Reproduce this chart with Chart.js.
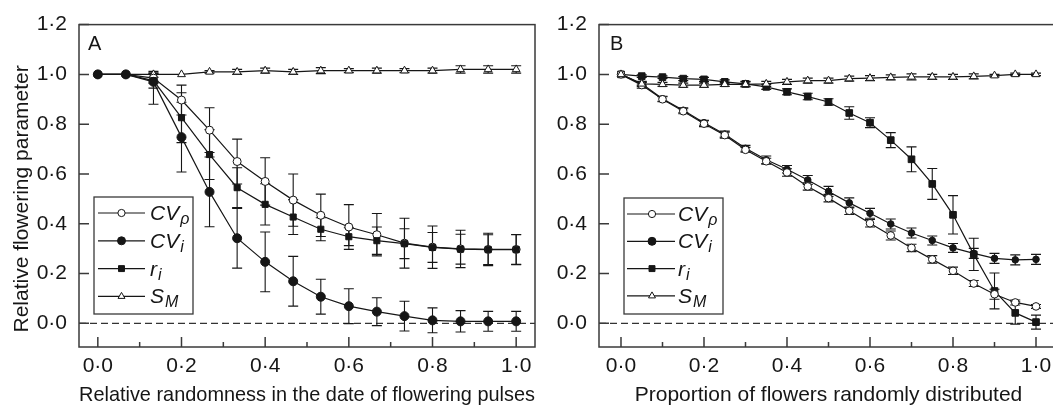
<!DOCTYPE html>
<html>
<head>
<meta charset="utf-8">
<script src="https://cdn.jsdelivr.net/npm/chart.js@4.4.0/dist/chart.umd.min.js"></script>
<style>
html,body{margin:0;padding:0;background:#fff;overflow:hidden;width:1053px;height:408px;}
#wrap{position:relative;width:1053px;height:408px;overflow:hidden;background:#fff;}
canvas{position:absolute;top:0;}
#ca{left:0;width:545px;height:408px;}
#cb{left:545px;width:523px;height:408px;}
</style>
</head>
<body>
<div id="wrap">
<canvas id="ca" width="545" height="408"></canvas>
<canvas id="cb" width="523" height="408"></canvas>
</div>
<script>
// ---------- text ----------
const yTitle = 'Relative flowering parameter';
const xTitleA = 'Relative randomness in the date of flowering pulses';
const xTitleB = 'Proportion of flowers randomly distributed';
const panelLetterA = 'A';
const panelLetterB = 'B';
const legendMain = ['CV', 'CV', 'r', 'S'];
const legendSub = ['\u03C1', 'i', 'i', 'M'];

// ---------- ticks ----------
const yTicks = [0, 0.2, 0.4, 0.6, 0.8, 1.0, 1.2];
const yTickLabels = ['0\u00B70', '0\u00B72', '0\u00B74', '0\u00B76', '0\u00B78', '1\u00B70', '1\u00B72'];
const xTicks = [0, 0.2, 0.4, 0.6, 0.8, 1.0];
const xTickLabels = ['0\u00B70', '0\u00B72', '0\u00B74', '0\u00B76', '0\u00B78', '1\u00B70'];
const xMinorTicks = [0.1, 0.3, 0.5, 0.7, 0.9];

// ---------- panel A data (error: number = symmetric, [below, above] = asymmetric) ----------
const xA = [0, 0.067, 0.133, 0.2, 0.267, 0.333, 0.4, 0.467, 0.533, 0.6, 0.667, 0.733, 0.8, 0.867, 0.933, 1.0];
const cvpA    = [1.0, 1.0, 0.985, 0.897, 0.776, 0.650, 0.570, 0.495, 0.434, 0.387, 0.356, 0.322, 0.306, 0.299, 0.297, 0.297];
const cvpErrA = [0, 0, 0.02, 0.06, 0.09, 0.09, 0.095, 0.105, 0.085, 0.09, 0.085, 0.10, 0.085, 0.075, 0.065, 0.06];
const cviA    = [1.0, 1.0, 0.97, 0.748, 0.528, 0.342, 0.247, 0.169, 0.107, 0.069, 0.047, 0.029, 0.012, 0.008, 0.008, 0.008];
const cviErrA = [0, 0, [0.09, 0.03], 0.14, 0.14, 0.12, 0.12, 0.10, 0.07, 0.07, 0.056, 0.06, 0.05, 0.043, 0.04, 0.04];
const riA     = [1.0, 1.0, 0.975, 0.826, 0.678, 0.545, 0.478, 0.427, 0.378, 0.348, 0.332, 0.320, 0.305, 0.298, 0.296, 0.296];
const riErrA  = [0, 0, 0.03, 0.10, 0.10, 0.08, 0.083, 0.07, 0.046, 0.036, 0.055, 0.06, 0.06, 0.06, 0.06, 0.06];
const smA     = [1.0, 1.0, 1.0, 1.0, 1.01, 1.01, 1.015, 1.01, 1.015, 1.015, 1.015, 1.015, 1.015, 1.02, 1.02, 1.02];
const smErrA  = [0, 0, 0.012, 0, 0.005, 0.01, 0.01, 0.01, 0.012, 0.008, 0.01, 0.008, 0.01, 0.015, 0.015, 0.015];

// ---------- panel B data ----------
const xB = [0, 0.05, 0.1, 0.15, 0.2, 0.25, 0.3, 0.35, 0.4, 0.45, 0.5, 0.55, 0.6, 0.65, 0.7, 0.75, 0.8, 0.85, 0.9, 0.95, 1.0];
const cvpB    = [1.0, 0.957, 0.9, 0.852, 0.802, 0.756, 0.697, 0.651, 0.606, 0.55, 0.503, 0.452, 0.402, 0.353, 0.303, 0.257, 0.211, 0.16, 0.117, 0.084, 0.068];
const cvpErrB = [0, 0.012, 0.01, 0.01, 0.012, 0.012, 0.01, 0.012, 0.015, 0.015, 0.015, 0.015, 0.015, 0.018, 0.015, 0.015, 0.015, 0.012, 0.02, 0.01, 0.008];
const cviB    = [1.0, 0.962, 0.902, 0.856, 0.806, 0.76, 0.703, 0.657, 0.619, 0.576, 0.53, 0.484, 0.442, 0.399, 0.363, 0.333, 0.303, 0.281, 0.261, 0.255, 0.257];
const cviErrB = [0, 0.01, 0.01, 0.01, 0.01, 0.012, 0.012, 0.015, 0.015, 0.018, 0.02, 0.02, 0.02, 0.02, 0.02, 0.018, 0.018, 0.02, 0.02, 0.02, 0.02];
const riB     = [1.0, 0.993, 0.989, 0.983, 0.98, 0.97, 0.962, 0.95, 0.93, 0.911, 0.889, 0.845, 0.806, 0.736, 0.659, 0.56, 0.436, 0.277, 0.13, 0.042, 0.005];
const riErrB  = [0, 0.005, 0.005, 0.008, 0.008, 0.008, 0.01, 0.01, 0.012, 0.013, 0.013, 0.025, 0.02, 0.03, 0.05, 0.062, 0.077, 0.065, 0.072, 0.045, 0.028];
const smB     = [1.0, 0.962, 0.96, 0.957, 0.957, 0.96, 0.96, 0.962, 0.97, 0.975, 0.975, 0.983, 0.985, 0.988, 0.99, 0.99, 0.99, 0.992, 0.995, 1.0, 1.0];
const smErrB  = [0, 0.005, 0.008, 0.008, 0.008, 0.008, 0.01, 0.01, 0.01, 0.01, 0.01, 0.01, 0.01, 0.01, 0.012, 0.01, 0.01, 0.01, 0.005, 0.005, 0.005];

// ---------- styling ----------
const FONT = '"Liberation Sans", Arial, Helvetica, sans-serif';
const INK = '#161616';
const FRAME = '#3a3a3a';

function makeDataset(label, xs, ys, errs, shape, radius, fill, order) {
  return {
    label: label,
    data: xs.map((x, i) => ({x: x, y: ys[i]})),
    errors: errs,
    borderColor: INK,
    borderWidth: 1.2,
    pointStyle: shape,
    pointRadius: radius,
    pointHoverRadius: radius,
    pointBackgroundColor: fill,
    pointBorderColor: INK,
    pointBorderWidth: 1,
    fill: false,
    tension: 0,
    order: order
  };
}

const errorBarsPlugin = {
  id: 'errorBars',
  beforeDatasetsDraw(chart) {
    const ctx = chart.ctx, xs = chart.scales.x, ys = chart.scales.y, ca = chart.chartArea;
    ctx.save();
    ctx.strokeStyle = '#333';
    ctx.lineWidth = 1.2;
    ctx.setLineDash([7, 4]);
    const y0 = ys.getPixelForValue(0);
    ctx.beginPath(); ctx.moveTo(ca.left, y0); ctx.lineTo(ca.right, y0); ctx.stroke();
    ctx.setLineDash([]);
    ctx.strokeStyle = INK;
    ctx.lineWidth = 1.1;
    chart.data.datasets.forEach(d => {
      if (!d.errors) return;
      d.data.forEach((p, i) => {
        const e = d.errors[i];
        if (!e) return;
        const lo = Array.isArray(e) ? e[0] : e;
        const hi = Array.isArray(e) ? e[1] : e;
        const px = xs.getPixelForValue(p.x);
        const y1 = ys.getPixelForValue(p.y + hi), y2 = ys.getPixelForValue(p.y - lo);
        ctx.beginPath();
        ctx.moveTo(px, y1); ctx.lineTo(px, y2);
        ctx.moveTo(px - 5, y1); ctx.lineTo(px + 5, y1);
        ctx.moveTo(px - 5, y2); ctx.lineTo(px + 5, y2);
        ctx.stroke();
      });
    });
    ctx.restore();
  }
};

function drawMarker(ctx, shape, r, fill, x, y) {
  ctx.fillStyle = fill;
  ctx.strokeStyle = INK;
  ctx.lineWidth = 1;
  if (Chart.helpers && Chart.helpers.drawPoint) {
    Chart.helpers.drawPoint(ctx, {pointStyle: shape, radius: r, rotation: 0, borderWidth: 1}, x, y);
  }
}

const decorPlugin = {
  id: 'decor',
  afterDraw(chart, args, opts) {
    const ctx = chart.ctx, ca = chart.chartArea, xs = chart.scales.x, ys = chart.scales.y;
    ctx.save();
    // frame
    ctx.strokeStyle = FRAME;
    ctx.lineWidth = 1.5;
    ctx.strokeRect(ca.left, ca.top, ca.right - ca.left, ca.bottom - ca.top);
    // inward ticks
    ctx.beginPath();
    yTicks.forEach(v => { const py = ys.getPixelForValue(v); ctx.moveTo(ca.left, py); ctx.lineTo(ca.left + 10, py); });
    xTicks.forEach(v => { const px = xs.getPixelForValue(v); ctx.moveTo(px, ca.bottom); ctx.lineTo(px, ca.bottom - 10); });
    xMinorTicks.forEach(v => { const px = xs.getPixelForValue(v); ctx.moveTo(px, ca.bottom); ctx.lineTo(px, ca.bottom - 5); });
    ctx.stroke();
    // y axis title (rotated)
    if (opts.yTitle) {
      ctx.save();
      ctx.translate(opts.yTitleX, ys.getPixelForValue(opts.yTitleCenter));
      ctx.rotate(-Math.PI / 2);
      ctx.fillStyle = INK;
      ctx.font = '21px ' + FONT;
      ctx.textAlign = 'center';
      ctx.textBaseline = 'middle';
      ctx.fillText(opts.yTitle, 0, 0);
      ctx.restore();
    }
    // panel letter
    ctx.fillStyle = INK;
    ctx.font = '20px ' + FONT;
    ctx.textBaseline = 'alphabetic';
    ctx.textAlign = 'left';
    ctx.fillText(opts.letter, ca.left + opts.letterDx, ca.top + 25);
    // legend
    const L = opts.legend;
    const bx = ca.left + L.dx, by = L.top;
    ctx.strokeStyle = FRAME;
    ctx.lineWidth = 1.3;
    ctx.fillStyle = '#fff';
    ctx.fillRect(bx, by, L.w, L.h);
    ctx.strokeRect(bx, by, L.w, L.h);
    L.items.forEach((it, i) => {
      const ry = by + L.firstRow + i * L.rowGap;
      ctx.strokeStyle = INK;
      ctx.lineWidth = 1.2;
      ctx.beginPath(); ctx.moveTo(bx + L.lineX0, ry); ctx.lineTo(bx + L.lineX1, ry); ctx.stroke();
      drawMarker(ctx, it.shape, it.r, it.fill, bx + L.markX, ry);
      ctx.fillStyle = INK;
      ctx.font = 'italic 21px ' + FONT;
      ctx.textAlign = 'left';
      ctx.textBaseline = 'alphabetic';
      const tx = bx + L.textX, base = ry + 7;
      ctx.fillText(legendMain[i], tx, base);
      const w = ctx.measureText(legendMain[i]).width;
      ctx.font = 'italic 16px ' + FONT;
      ctx.fillText(legendSub[i], tx + w + 1, base + 4);
    });
    ctx.restore();
  }
};

function makeChart(id, sets, xTitle, minX, maxX, yAxisWidth, yTitleText, padRight, letter, letterDx, legend) {
  return new Chart(document.getElementById(id), {
    type: 'line',
    data: {datasets: sets},
    options: {
      responsive: false,
      animation: false,
      events: [],
      layout: {padding: {left: 0, right: padRight, top: 17, bottom: 0}},
      plugins: {
        legend: {display: false},
        tooltip: {enabled: false},
        decor: {letter: letter, letterDx: letterDx, legend: legend, yTitle: yTitleText, yTitleX: 22, yTitleCenter: 0.5}
      },
      scales: {
        x: {
          type: 'linear', min: minX, max: maxX,
          afterBuildTicks: s => { s.ticks = xTicks.map(v => ({value: v})); },
          afterFit: s => { s.height = 61; },
          ticks: {
            autoSkip: false, maxRotation: 0, padding: 7, color: INK,
            font: {family: FONT, size: 21},
            callback: v => xTickLabels[xTicks.indexOf(v)]
          },
          grid: {display: false, drawTicks: false},
          border: {display: false},
          title: {display: true, text: xTitle, color: INK, font: {family: FONT, size: 21}, padding: {top: 0, bottom: 0}}
        },
        y: {
          type: 'linear', min: -0.095, max: 1.2,
          afterBuildTicks: s => { s.ticks = yTicks.map(v => ({value: v})); },
          afterFit: s => { s.width = yAxisWidth; },
          ticks: {
            autoSkip: false, padding: 12, color: INK,
            font: {family: FONT, size: 21},
            callback: v => yTickLabels[yTicks.indexOf(v)]
          },
          grid: {display: false, drawTicks: false},
          border: {display: false},
          title: {display: false}
        }
      }
    },
    plugins: [errorBarsPlugin, decorPlugin]
  });
}

const legendItems = (rOpen, rFilled, rSq, rTri) => ([
  {shape: 'circle', r: rOpen, fill: '#fff'},
  {shape: 'circle', r: rFilled, fill: INK},
  {shape: 'rect', r: rSq, fill: INK},
  {shape: 'triangle', r: rTri, fill: '#fff'}
]);

makeChart('ca', [
  makeDataset('CV\u03C1', xA, cvpA, cvpErrA, 'circle', 4, '#fff', 2),
  makeDataset('CVi', xA, cviA, cviErrA, 'circle', 4.5, INK, 0),
  makeDataset('ri', xA, riA, riErrA, 'rect', 4.3, INK, 1),
  makeDataset('SM', xA, smA, smErrA, 'triangle', 4.5, '#fff', 3)
], xTitleA, -0.045, 1.045, 79, yTitle, 10, panelLetterA, 9,
  {dx: 15, top: 197, w: 99, h: 117, firstRow: 16, rowGap: 27.8, lineX0: 4, lineX1: 51, markX: 27.5, textX: 56,
   items: legendItems(3.6, 4, 4.2, 4)});

makeChart('cb', [
  makeDataset('CV\u03C1', xB, cvpB, cvpErrB, 'circle', 3.8, '#fff', 1),
  makeDataset('CVi', xB, cviB, cviErrB, 'circle', 3.3, INK, 3),
  makeDataset('ri', xB, riB, riErrB, 'rect', 4.7, INK, 2),
  makeDataset('SM', xB, smB, smErrB, 'triangle', 4.5, '#fff', 0)
], xTitleB, -0.053, 1.053, 54, null, 10, panelLetterB, 11,
  {dx: 25, top: 198, w: 99, h: 116, firstRow: 16, rowGap: 27.3, lineX0: 3, lineX1: 51, markX: 28, textX: 54,
   items: legendItems(3.6, 4, 4.2, 4)});
</script>
</body>
</html>
